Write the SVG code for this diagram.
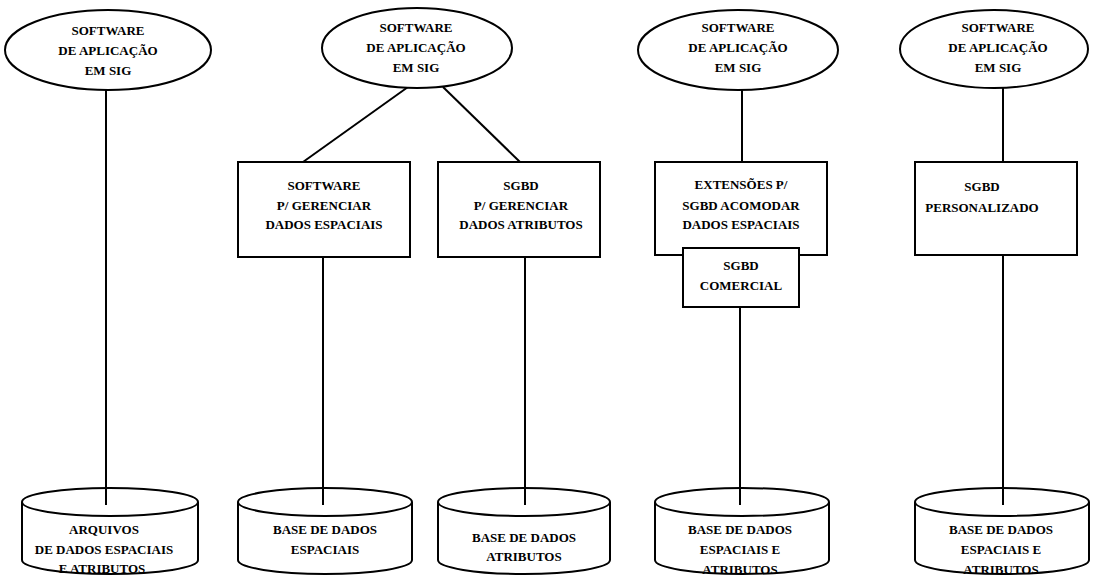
<svg xmlns="http://www.w3.org/2000/svg" width="1100" height="580" viewBox="0 0 1100 580">
  <style>
    .shape { fill: #ffffff; stroke: #000000; stroke-width: 2; }
    .wire { fill: none; stroke: #000000; stroke-width: 2; }
    text { font-family: "Liberation Serif", "Times New Roman", serif; font-size: 13px; font-weight: bold; fill: #000000; text-anchor: middle; }
  </style>
  <rect width="1100" height="580" fill="#ffffff"/>

  <!-- connectors -->
  <g id="connectors">
    <line class="wire" x1="106" y1="90" x2="106" y2="505"/>
    <line class="wire" x1="408" y1="87" x2="303" y2="162"/>
    <line class="wire" x1="443" y1="87" x2="520" y2="162"/>
    <line class="wire" x1="323" y1="257" x2="323" y2="505"/>
    <line class="wire" x1="525" y1="257" x2="525" y2="505"/>
    <line class="wire" x1="742" y1="90" x2="742" y2="162"/>
    <line class="wire" x1="740" y1="307" x2="740" y2="505"/>
    <line class="wire" x1="1003" y1="88" x2="1003" y2="162"/>
    <line class="wire" x1="1003" y1="255" x2="1003" y2="505"/>
  </g>

  <!-- application software ellipses -->
  <g id="app1">
    <ellipse class="shape" cx="108" cy="50" rx="103" ry="40"/>
    <text x="108" y="35">SOFTWARE</text>
    <text x="108" y="55">DE APLICAÇÃO</text>
    <text x="108" y="75">EM SIG</text>
  </g>
  <g id="app2">
    <ellipse class="shape" cx="417" cy="48" rx="95" ry="40"/>
    <text x="416" y="32">SOFTWARE</text>
    <text x="416" y="52">DE APLICAÇÃO</text>
    <text x="416" y="72">EM SIG</text>
  </g>
  <g id="app3">
    <ellipse class="shape" cx="738" cy="50" rx="100" ry="40"/>
    <text x="738" y="32">SOFTWARE</text>
    <text x="738" y="52">DE APLICAÇÃO</text>
    <text x="738" y="72">EM SIG</text>
  </g>
  <g id="app4">
    <ellipse class="shape" cx="994" cy="49" rx="94" ry="39"/>
    <text x="998" y="32">SOFTWARE</text>
    <text x="998" y="52">DE APLICAÇÃO</text>
    <text x="998" y="72">EM SIG</text>
  </g>

  <!-- management boxes -->
  <g id="sw-espacial">
    <rect class="shape" x="238" y="162" width="172" height="95"/>
    <text x="324" y="190">SOFTWARE</text>
    <text x="324" y="210">P/ GERENCIAR</text>
    <text x="324" y="229">DADOS ESPACIAIS</text>
  </g>
  <g id="sgbd-atributos">
    <rect class="shape" x="438" y="162" width="162" height="95"/>
    <text x="521" y="190">SGBD</text>
    <text x="521" y="210">P/ GERENCIAR</text>
    <text x="521" y="229">DADOS ATRIBUTOS</text>
  </g>
  <g id="extensoes">
    <rect class="shape" x="655" y="162" width="172" height="93"/>
    <text x="741" y="189">EXTENSÕES P/</text>
    <text x="741" y="210">SGBD ACOMODAR</text>
    <text x="741" y="229">DADOS ESPACIAIS</text>
  </g>
  <g id="sgbd-comercial">
    <rect class="shape" x="683" y="248" width="116" height="59"/>
    <text x="741" y="270">SGBD</text>
    <text x="741" y="290">COMERCIAL</text>
  </g>
  <g id="sgbd-personalizado">
    <rect class="shape" x="915" y="162" width="162" height="93"/>
    <text x="982" y="191">SGBD</text>
    <text x="982" y="212">PERSONALIZADO</text>
  </g>

  <!-- databases -->
  <g id="db1">
    <path class="shape" d="M22,502 L22,560 A88,14 0 0 0 198,560 L198,502"/>
    <ellipse class="shape" cx="110" cy="502" rx="88" ry="14"/>
    <line class="wire" x1="106" y1="488" x2="106" y2="505"/>
    <text x="104" y="534">ARQUIVOS</text>
    <text x="104" y="554">DE DADOS ESPACIAIS</text>
    <text x="102" y="573">E ATRIBUTOS</text>
  </g>
  <g id="db2">
    <path class="shape" d="M238,502 L238,560 A87,14 0 0 0 412,560 L412,502"/>
    <ellipse class="shape" cx="325" cy="502" rx="87" ry="14"/>
    <line class="wire" x1="323" y1="488" x2="323" y2="505"/>
    <text x="325" y="534">BASE DE DADOS</text>
    <text x="325" y="554">ESPACIAIS</text>
  </g>
  <g id="db3">
    <path class="shape" d="M438,502 L438,560 A86,14 0 0 0 610,560 L610,502"/>
    <ellipse class="shape" cx="524" cy="502" rx="86" ry="14"/>
    <line class="wire" x1="525" y1="488" x2="525" y2="505"/>
    <text x="524" y="542">BASE DE DADOS</text>
    <text x="524" y="561">ATRIBUTOS</text>
  </g>
  <g id="db4">
    <path class="shape" d="M655,502 L655,560 A87,14 0 0 0 829,560 L829,502"/>
    <ellipse class="shape" cx="742" cy="502" rx="87" ry="14"/>
    <line class="wire" x1="740" y1="488" x2="740" y2="505"/>
    <text x="740" y="534">BASE DE DADOS</text>
    <text x="740" y="554">ESPACIAIS E</text>
    <text x="740" y="574">ATRIBUTOS</text>
  </g>
  <g id="db5">
    <path class="shape" d="M915,502 L915,560 A87,14 0 0 0 1089,560 L1089,502"/>
    <ellipse class="shape" cx="1002" cy="502" rx="87" ry="14"/>
    <line class="wire" x1="1003" y1="488" x2="1003" y2="505"/>
    <text x="1001" y="534">BASE DE DADOS</text>
    <text x="1001" y="554">ESPACIAIS E</text>
    <text x="1001" y="574">ATRIBUTOS</text>
  </g>
</svg>
